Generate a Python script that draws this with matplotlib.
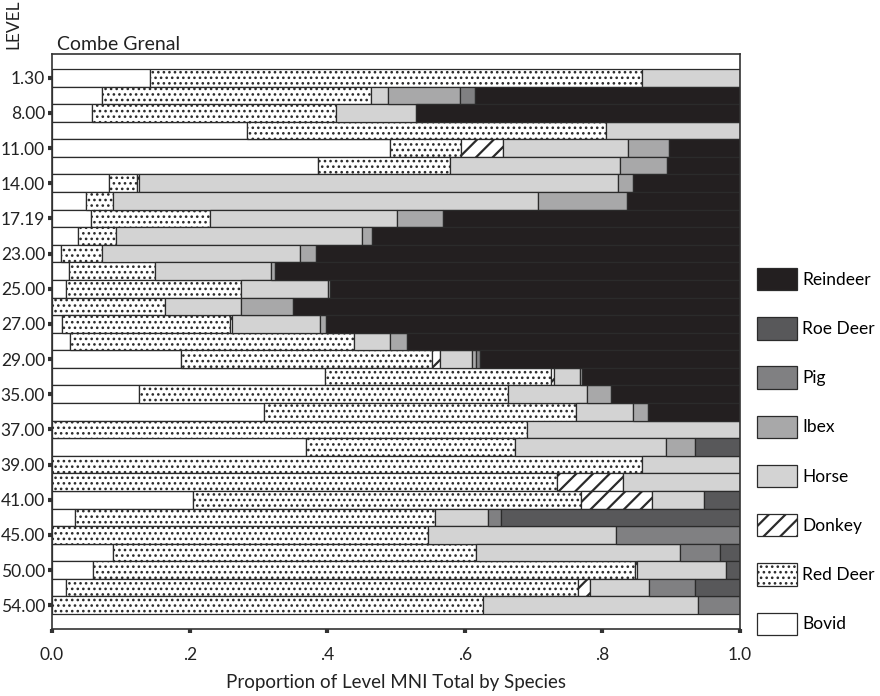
import numpy as np
import matplotlib.pyplot as plt
from matplotlib.patches import Patch

plt.rcParams['font.family'] = ['Lato', 'DejaVu Sans']
plt.rcParams['hatch.linewidth'] = 1.0

# 31 levels, only every second one is labelled
level_labels = ["1.30", "8.00", "11.00", "14.00", "17.19", "23.00", "25.00", "27.00",
                "29.00", "35.00", "37.00", "39.00", "41.00", "45.00", "50.00", "54.00"]

species = ["Bovid", "Red Deer", "Donkey", "Horse", "Ibex", "Pig", "Roe Deer", "Reindeer"]

# proportion of level MNI, one value per level (top to bottom)
bovid = [.143, .073, .058, .283, .491, .387, .083, .049, .056, .038, .013, .024, .021, 0, .015, .026,
         .187, .397, .126, .308, 0, .369, 0, 0, .205, .033, 0, .088, .059, .021, 0]
red_deer = [.714, .390, .355, .522, .103, .192, .040, .039, .173, .055, .060, .126, .254, .164, .244, .413,
            .366, .328, .537, .453, .691, .304, .858, .734, .564, .523, .547, .529, .789, .744, .627]
donkey = [0, 0, 0, 0, .061, 0, .004, 0, 0, 0, 0, 0, 0, 0, .003, 0,
          .011, .005, 0, 0, 0, 0, 0, .096, .103, 0, 0, 0, .003, .017, 0]
horse = [.143, .025, .116, .195, .182, .246, .695, .619, .272, .357, .287, .169, .126, .111, .128, .052,
         .047, .037, .114, .084, .309, .219, .142, .170, .076, .078, .273, .296, .129, .086, .312]
ibex = [0, .105, 0, 0, .060, .069, .023, .129, .068, .015, .023, .005, .003, .076, .008, .025,
        .006, .004, .035, .021, 0, .043, 0, 0, 0, 0, 0, 0, 0, 0, 0]
pig = [0, .022, 0, 0, 0, 0, 0, 0, 0, 0, 0, 0, 0, 0, 0, 0,
       .005, 0, 0, 0, 0, 0, 0, 0, 0, .018, .180, .058, 0, .066, .061]
roe_deer = [0, 0, 0, 0, 0, 0, 0, 0, 0, 0, 0, 0, 0, 0, 0, 0,
            0, 0, 0, 0, 0, .065, 0, 0, .052, .348, 0, .029, .020, .066, 0]
reindeer = [0, .385, .471, 0, .103, .106, .155, .164, .431, .535, .617, .676, .596, .649, .602, .484,
            .378, .229, .188, .134, 0, 0, 0, 0, 0, 0, 0, 0, 0, 0, 0]

series = [bovid, red_deer, donkey, horse, ibex, pig, roe_deer, reindeer]
colors = ["white", "white", "white", "#d3d3d3", "#a8a8a9", "#808082", "#58585a", "#231f20"]
hatches = [None, "...", "//", None, None, None, None, None]
hatch_lw = [1.0, 1.1, 1.6, 1.0, 1.0, 1.0, 1.0, 1.0]
edge = "#2b2b2b"

fig = plt.figure(figsize=(8.8, 6.96), dpi=100)
ax = fig.add_axes([52 / 880, 1 - 629 / 696, 688 / 880, 575 / 696])

n = len(bovid)
y = np.arange(n)
left = np.zeros(n)
for vals, c, h, hlw in zip(series, colors, hatches, hatch_lw):
    vals = np.array(vals, dtype=float)
    m = vals > 0
    bars = ax.barh(y[m], vals[m], left=left[m], height=1.0, color=c, hatch=h,
                   edgecolor=edge, linewidth=0.9)
    for b in bars:
        b.set_hatch_linewidth(hlw)
    left += vals

ax.set_xlim(0, 1)
ax.set_ylim(n - 0.5 + 0.85, -0.5 - 0.85)

ax.set_yticks(y[::2])
ax.set_yticklabels(level_labels, fontsize=12.5, color="#222222")
ax.set_xticks([0, .2, .4, .6, .8, 1.0])
ax.set_xticklabels(["0.0", ".2", ".4", ".6", ".8", "1.0"], fontsize=12.5, color="#222222")
ax.tick_params(axis="both", length=3, width=3, color="#333333", pad=2)
ax.tick_params(axis="x", pad=10)
for s in ax.spines.values():
    s.set_color("#333333")
    s.set_linewidth(1.2)

ax.set_xlabel("Proportion of Level MNI Total by Species", fontsize=13.5, color="#222222", labelpad=8)
fig.text(57 / 880, 1 - 44 / 696, "Combe Grenal", fontsize=14, color="#222222", va="center")
fig.text(13 / 880, 1 - 24 / 696, "LEVEL", fontsize=12.5, color="#222222", rotation=90,
         ha="center", va="center")

handles = [Patch(facecolor=c, edgecolor=edge, hatch=h, linewidth=0.9, label=s)
           for s, c, h in zip(species, colors, hatches)]
leg = fig.legend(handles=handles[::-1], loc="upper left", bbox_to_anchor=(757 / 880, 1 - 268 / 696),
                 frameon=False, fontsize=12.5, handlelength=2.3, handleheight=1.6,
                 labelspacing=1.55, handletextpad=0.3, borderpad=0, borderaxespad=0)
for hp, hlw in zip(leg.get_patches(), hatch_lw[::-1]):
    hp.set_hatch_linewidth(hlw)

fig.savefig("out.png", dpi=100)
